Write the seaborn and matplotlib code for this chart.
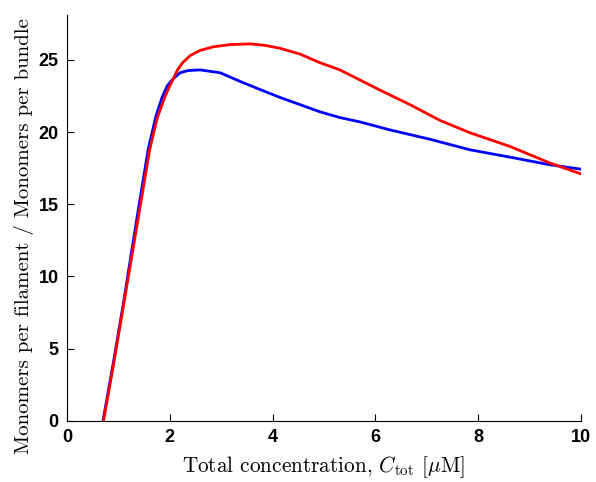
import numpy as np
import pandas as pd
import matplotlib
matplotlib.use("Agg")
import matplotlib.pyplot as plt
import seaborn as sns

# Valores (concentración total en µM)
blue_x = [0.70, 0.90, 1.10, 1.26, 1.40, 1.58, 1.73, 1.85, 1.95, 2.07, 2.20, 2.35, 2.59,
          2.98, 3.37, 3.75, 4.14, 4.53, 4.92, 5.31, 5.70, 6.28, 7.06, 7.84, 8.62, 9.40,
          10.0]
blue_y = [0.0, 4.0, 8.2, 11.8, 14.9, 18.8, 21.1, 22.4, 23.2, 23.7, 24.1, 24.25, 24.3,
          24.1, 23.5, 22.95, 22.4, 21.9, 21.4, 21.0, 20.7, 20.15, 19.5, 18.77, 18.26,
          17.73, 17.43]

red_x = [0.71, 0.90, 1.10, 1.28, 1.45, 1.61, 1.75, 1.90, 2.00, 2.07, 2.15, 2.25, 2.40,
         2.59, 2.85, 3.17, 3.56, 3.85, 4.14, 4.53, 4.92, 5.31, 5.70, 6.09, 6.67, 7.26,
         7.84, 8.62, 9.40, 10.0]
red_y = [0.0, 3.8, 8.0, 11.8, 15.4, 18.8, 20.9, 22.4, 23.2, 23.7, 24.3, 24.8, 25.3,
         25.65, 25.9, 26.05, 26.1, 26.0, 25.8, 25.4, 24.8, 24.3, 23.6, 22.9, 21.9, 20.8,
         19.95, 19.0, 17.85, 17.1]

x_ticks = [0, 2, 4, 6, 8, 10]
y_ticks = [0, 5, 10, 15, 20, 25]

df = pd.concat([
    pd.DataFrame({"x": blue_x, "y": blue_y, "serie": "azul"}),
    pd.DataFrame({"x": red_x, "y": red_y, "serie": "rojo"}),
], ignore_index=True)

sns.set_style("ticks")
plt.rcParams["mathtext.fontset"] = "cm"
plt.rcParams["xtick.direction"] = "in"
plt.rcParams["ytick.direction"] = "in"

fig = plt.figure(figsize=(5.96, 4.82), dpi=100)
ax = fig.add_axes([0.1124, 0.1266, 0.8624, 0.8423])

sns.lineplot(data=df, x="x", y="y", hue="serie", palette={"azul": "#0000ff", "rojo": "#ff0000"},
             sort=False, estimator=None, linewidth=2, legend=False, ax=ax)

ax.set_xlim(0, 10)
ax.set_ylim(0, 28.1)
ax.set_xticks(x_ticks)
ax.set_yticks(y_ticks)
ax.tick_params(length=5, width=0.8, pad=6, color="black", labelcolor="black")
for lab in ax.get_xticklabels() + ax.get_yticklabels():
    lab.set_fontfamily("Liberation Sans")
    lab.set_fontweight("bold")
    lab.set_fontsize(13)

sns.despine(ax=ax)
for s in ["left", "bottom"]:
    ax.spines[s].set_linewidth(0.8)
    ax.spines[s].set_color("black")

ax.set_xlabel(r"Total concentration, $C_{\rm tot}$ [$\mu$M]", fontfamily="cmr10",
              fontsize=15.3, labelpad=6, color="black")
ax.set_ylabel("Monomers per filament / Monomers per bundle", fontfamily="cmr10",
              fontsize=15.0, color="black")
ax.yaxis.set_label_coords(-0.064, 0.456)

fig.savefig("out.png", dpi=100)
